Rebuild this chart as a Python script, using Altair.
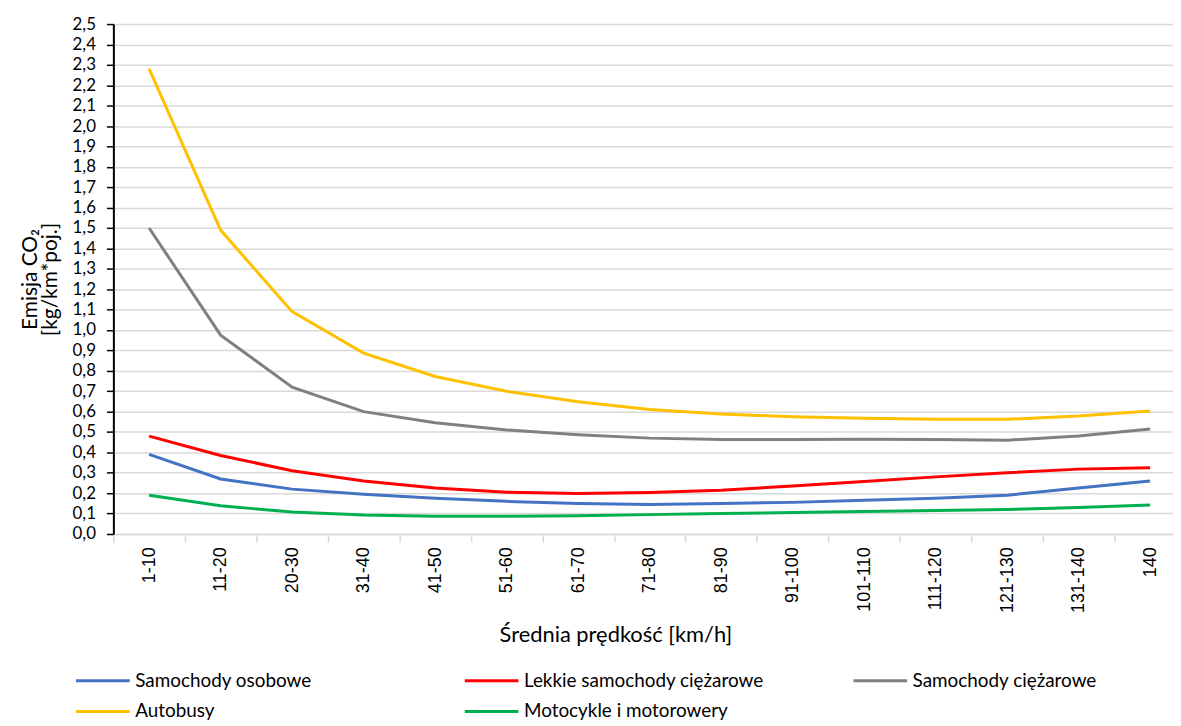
import json
import altair as alt
import pandas as pd

categories = ["1-10", "11-20", "20-30", "31-40", "41-50", "51-60", "61-70", "71-80",
              "81-90", "91-100", "101-110", "111-120", "121-130", "131-140", "140"]

series_names = ["Samochody osobowe", "Lekkie samochody ciężarowe", "Samochody ciężarowe",
                "Autobusy", "Motocykle i motorowery"]
series_colors = ["#4472C4", "#FF0000", "#808080", "#FFC000", "#00B050"]

osobowe = [0.39, 0.27, 0.22, 0.195, 0.175, 0.16, 0.15, 0.145, 0.15, 0.155, 0.165, 0.175, 0.19, 0.225, 0.26]
lekkie = [0.48, 0.385, 0.31, 0.26, 0.225, 0.205, 0.198, 0.203, 0.215, 0.235, 0.257, 0.28, 0.30, 0.318, 0.325]
ciezarowe = [1.50, 0.975, 0.72, 0.60, 0.545, 0.51, 0.487, 0.47, 0.463, 0.463, 0.465, 0.463, 0.46, 0.48, 0.515]
autobusy = [2.28, 1.49, 1.09, 0.887, 0.772, 0.70, 0.648, 0.61, 0.588, 0.575, 0.567, 0.563, 0.562, 0.578, 0.603]
motocykle = [0.19, 0.138, 0.108, 0.093, 0.087, 0.087, 0.09, 0.095, 0.10, 0.105, 0.11, 0.115, 0.12, 0.13, 0.142]

y_ticks = [round(i * 0.1, 1) for i in range(26)]

rows = []
for name, vals in zip(series_names, [osobowe, lekkie, ciezarowe, autobusy, motocykle]):
    for i, (c, v) in enumerate(zip(categories, vals)):
        rows.append({"idx": i, "kat": c, "seria": name, "val": v})
df = pd.DataFrame(rows)

x_values = [i * 0.5 - 0.5 for i in range(30)]
label_expr = f"datum.value % 1 === 0 ? {json.dumps(categories, ensure_ascii=False)}[datum.value] : ''"

FONT = "Lato"

chart = alt.Chart(df).mark_line(strokeWidth=3).encode(
    x=alt.X("idx:Q",
            scale=alt.Scale(domain=[-0.5, 14.32], nice=False, zero=False),
            axis=alt.Axis(values=x_values, labelExpr=label_expr, labelAngle=-90,
                          labelAlign="right", labelBaseline="middle",
                          labelPadding=5, labelFlush=False, labelOverlap=False, labelBound=False,
                          labelFont="Liberation Sans", labelFontSize=18, labelColor="#000000",
                          tickSize=8, tickColor="#D9D9D9", tickWidth=1.5,
                          tickOpacity={"condition": {"test": "datum.value % 1 === 0", "value": 0}, "value": 1},
                          domainColor="#D9D9D9", domainWidth=1.5, grid=False,
                          title="Średnia prędkość [km/h]", titleFont=FONT, titleFontSize=22,
                          titleFontWeight="normal", titleColor="#000000",
                          titleX=505, titleY=101, titleAnchor="middle", titleAlign="center",
                          titleBaseline="middle")),
    y=alt.Y("val:Q",
            scale=alt.Scale(domain=[0, 2.5], nice=False),
            axis=alt.Axis(values=y_ticks,
                          labelExpr="replace(format(datum.value, '.1f'), '.', ',')",
                          labelFont=FONT, labelFontSize=17, labelColor="#000000", labelPadding=11,
                          tickSize=7, tickColor="#000000", tickWidth=1.5,
                          domainColor="#000000", domainWidth=2,
                          grid=True, gridColor="#D9D9D9", gridWidth=1.5,
                          title=["Emisja CO₂", "[kg/km*poj.]"], titleFont=FONT, titleFontSize=21,
                          titleFontWeight="normal", titleColor="#000000", titlePadding=12,
                          titleLineHeight=20)),
    color=alt.Color("seria:N",
                    scale=alt.Scale(domain=series_names, range=series_colors),
                    sort=series_names,
                    legend=alt.Legend(title=None, orient="none", legendX=-21, legendY=650,
                                      direction="horizontal", columns=3, gridAlign="all",
                                      symbolType="M-3,0H3", symbolSize=324, symbolStrokeWidth=3,
                                      labelFont=FONT, labelFontSize=19, labelColor="#000000",
                                      labelOffset=22, columnPadding=83, rowPadding=10,
                                      padding=0, labelLimit=400)),
    detail="seria:N",
).properties(
    width=1066, height=513,
    autosize=alt.AutoSizeParams(type="none"),
    padding={"left": 106, "top": 14, "right": 0, "bottom": 190},
).configure_view(stroke=None).configure(background="white")

chart.save("out.html", embed_options={"renderer": "svg", "actions": False})
